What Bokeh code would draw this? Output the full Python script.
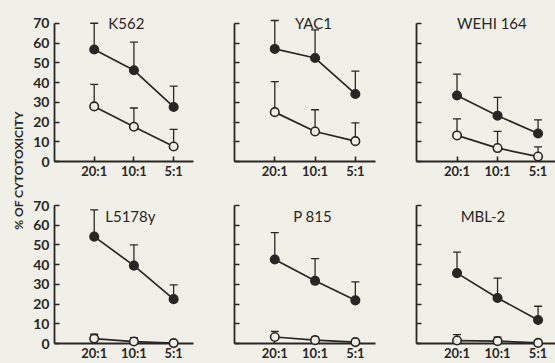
from bokeh.plotting import figure
from bokeh.layouts import row, column
from bokeh.models import ColumnDataSource, Whisker, TeeHead, FixedTicker, Range1d, Label
from bokeh.embed import file_html
from bokeh.resources import INLINE
from bokeh.core.properties import value

# effector : target ratios on the x axis
ratios = ["20:1", "10:1", "5:1"]
y_ticks = [0, 10, 20, 30, 40, 50, 60, 70]

# % cytotoxicity, filled symbols (mean and upper error)
k562_filled = [56.7, 46.2, 27.6]
k562_filled_err = [13.3, 14.2, 10.6]
yac1_filled = [57.0, 52.4, 34.2]
yac1_filled_err = [14.4, 14.2, 11.6]
wehi_filled = [33.4, 23.2, 14.2]
wehi_filled_err = [10.8, 9.3, 6.9]
l5178y_filled = [54.2, 39.5, 22.5]
l5178y_filled_err = [13.6, 10.5, 7.2]
p815_filled = [42.6, 31.8, 21.9]
p815_filled_err = [13.6, 11.3, 9.4]
mbl2_filled = [35.7, 23.1, 11.9]
mbl2_filled_err = [10.6, 10.1, 7.0]

# % cytotoxicity, open symbols (mean and upper error)
k562_open = [27.9, 17.6, 7.6]
k562_open_err = [11.2, 9.5, 8.7]
yac1_open = [25.0, 15.2, 10.3]
yac1_open_err = [15.4, 11.0, 9.3]
wehi_open = [13.2, 6.8, 2.5]
wehi_open_err = [8.4, 8.5, 4.9]
l5178y_open = [2.5, 1.0, 0.2]
l5178y_open_err = [2.2, 2.0, 1.1]
p815_open = [3.3, 1.7, 0.7]
p815_open_err = [2.8, 1.5, 0.8]
mbl2_open = [1.5, 1.2, 0.3]
mbl2_open_err = [3.0, 2.0, 1.2]

targets = ["K562", "YAC1", "WEHI 164", "L5178y", "P 815", "MBL-2"]

PAPER = "#f1f0e8"
INK = "#282725"
FONT = "Lato"

panels = [
    (k562_filled, k562_filled_err, k562_open, k562_open_err),
    (yac1_filled, yac1_filled_err, yac1_open, yac1_open_err),
    (wehi_filled, wehi_filled_err, wehi_open, wehi_open_err),
    (l5178y_filled, l5178y_filled_err, l5178y_open, l5178y_open_err),
    (p815_filled, p815_filled_err, p815_open, p815_open_err),
    (mbl2_filled, mbl2_filled_err, mbl2_open, mbl2_open_err),
]

# layout: (width, height, left, right, top, bottom, x_end, y_top, title_x, title_y)
# top row keeps room above the 70 % tick for the panel names
layout = [
    (169, 181, 22, 6, 3, 17, 2.5, 80.0, 0.81, 70.0),
    (182, 181, 35, 6, 3, 17, 2.5, 80.0, 0.96, 70.0),
    (174, 181, 35, 0, 3, 17, 2.43, 80.0, 0.86, 70.0),
    (169, 182, 22, 6, 24, 17, 2.5, 70.0, 0.91, 64.5),
    (182, 182, 35, 6, 24, 17, 2.5, 70.0, 0.94, 64.5),
    (174, 182, 35, 0, 24, 17, 2.43, 70.0, 0.64, 64.5),
]

xs = list(range(len(ratios)))


def add_series(p, means, errs, filled):
    src = ColumnDataSource(dict(
        x=xs, y=means, top=[m + e for m, e in zip(means, errs)]))
    p.line("x", "y", source=src, line_color=INK, line_width=1.7)
    w = Whisker(source=src, base="x", lower="y", upper="top",
                dimension="height", line_color=INK, line_width=1.3,
                lower_head=None,
                upper_head=TeeHead(size=8, line_color=INK, line_width=1.3),
                level="annotation")
    p.add_layout(w)
    p.scatter("x", "y", source=src, marker="circle", size=8.5,
              fill_color=INK if filled else PAPER, line_color=INK,
              line_width=1.6, level="overlay")


figs = []
for i, (name, data, lay) in enumerate(zip(targets, panels, layout)):
    w, h, bl, br, bt, bb, x_end, y_top, tx, ty = lay
    p = figure(width=w, height=h, output_backend="svg", toolbar_location=None,
               x_range=Range1d(-1, x_end), y_range=Range1d(0, y_top),
               min_border_left=bl, min_border_right=br,
               min_border_top=bt, min_border_bottom=bb)
    p.background_fill_color = PAPER
    p.border_fill_color = PAPER
    p.outline_line_color = None
    p.grid.visible = False

    for ax in (p.xaxis[0], p.yaxis[0]):
        ax.axis_line_color = INK
        ax.axis_line_width = 1.8
        ax.major_tick_line_color = INK
        ax.major_tick_line_width = 1.6
        ax.major_tick_in = 5
        ax.major_tick_out = 0
        ax.minor_tick_line_color = None
        ax.major_label_text_font = FONT
        ax.major_label_text_font_style = "bold"
        ax.major_label_text_color = INK

    p.xaxis.ticker = FixedTicker(ticks=xs)
    p.xaxis.major_label_overrides = {x: r for x, r in zip(xs, ratios)}
    p.xaxis.major_label_standoff = 1
    p.xaxis.major_label_text_font_size = "13px"
    p.yaxis.ticker = FixedTicker(ticks=y_ticks)
    p.yaxis.bounds = (0, 70)
    p.yaxis.major_label_standoff = 5
    p.yaxis.major_label_text_font_size = "14px"
    if i % 3 != 0:
        p.yaxis.major_label_text_color = None

    f, fe, o, oe = data
    add_series(p, o, oe, filled=False)
    add_series(p, f, fe, filled=True)

    p.add_layout(Label(x=tx, y=ty, text=name, text_align="center",
                       text_baseline="alphabetic", text_font=FONT,
                       text_font_size="15px", text_color=INK))
    figs.append(p)

# shared y-axis title in its own narrow strip
lab = figure(width=30, height=363, output_backend="svg", toolbar_location=None,
             x_range=Range1d(0, 30), y_range=Range1d(0, 363),
             x_axis_type=None, y_axis_type=None,
             min_border=0, min_border_left=0, min_border_right=0,
             min_border_top=0, min_border_bottom=0)
lab.background_fill_color = PAPER
lab.border_fill_color = PAPER
lab.outline_line_color = None
lab.grid.visible = False
lab.text(x=[18], y=[193], text=["% OF CYTOTOXICITY"], angle=1.5708,
         text_align="center", text_baseline="middle",
         text_font=value(FONT), text_font_style="bold",
         text_font_size="12px", text_color=INK)

bg = {"background-color": PAPER}
grid = column(row(figs[0], figs[1], figs[2], styles=bg),
              row(figs[3], figs[4], figs[5], styles=bg), styles=bg)
page = row(lab, grid, styles=bg)

open("out.html", "w").write(file_html(page, INLINE))
